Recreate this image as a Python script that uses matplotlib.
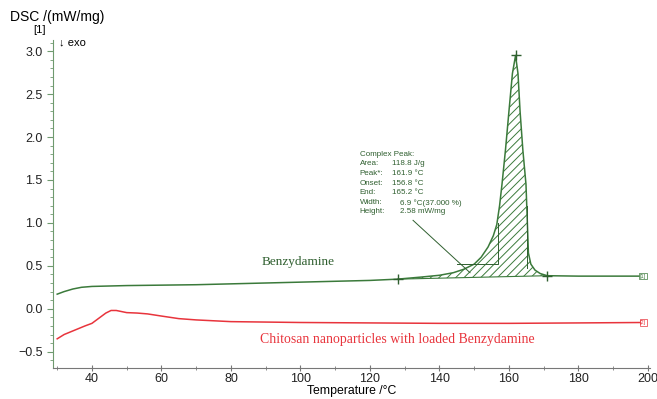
import matplotlib.pyplot as plt
from matplotlib.ticker import MultipleLocator

# DSC trace of pure benzydamine (°C, mW/mg)
t_benz = [30, 32, 34.5, 37, 40, 45, 50, 60, 70, 80, 90, 100, 110, 120, 128,
          135, 140, 144, 147, 150, 152, 154, 155.5, 156.5, 157.3, 158, 159,
          160, 161, 161.9, 162.6, 163.2, 164.0, 164.9, 165.3, 165.6, 166.3,
          167.5, 169, 171, 180, 190, 198.6]
dsc_benz = [0.17, 0.20, 0.23, 0.25, 0.26, 0.265, 0.27, 0.275, 0.28, 0.29, 0.30,
            0.31, 0.32, 0.33, 0.345, 0.37, 0.39, 0.42, 0.46, 0.52, 0.60, 0.72,
            0.85, 0.98, 1.20, 1.45, 1.85, 2.30, 2.74, 2.95, 2.74, 2.30, 1.85,
            1.45, 1.00, 0.65, 0.52, 0.45, 0.41, 0.385, 0.38, 0.38, 0.38]

# DSC trace of chitosan nanoparticles loaded with benzydamine
t_np = [30, 32, 35, 38, 40, 42, 44, 45.5, 47, 50, 53, 56, 60, 65, 70, 80, 90,
        100, 120, 140, 160, 180, 198.6]
dsc_np = [-0.35, -0.30, -0.25, -0.20, -0.17, -0.11, -0.05, -0.02, -0.02,
          -0.045, -0.05, -0.06, -0.085, -0.115, -0.13, -0.15, -0.155, -0.16,
          -0.165, -0.17, -0.17, -0.165, -0.16]

# peak evaluation
peak_start, peak_end = 128, 171
peak_t, peak_h = 161.9, 2.95
onset_t, end_t = 156.8, 165.2
peak_keys = ['Area:', 'Peak*:', 'Onset:', 'End:', 'Width:', 'Height:']
peak_vals = ['118.8 J/g', '161.9 °C', '156.8 °C', '165.2 °C',
             '6.9 °C(37.000 %)', '2.58 mW/mg']

green = '#3b7a3b'
dark_green = '#2f5f2f'
red = '#e8343c'

plt.rcParams['font.family'] = ['Liberation Sans', 'DejaVu Sans']
plt.rcParams['hatch.linewidth'] = 0.7

fig = plt.figure(figsize=(6.57, 3.99), dpi=100)
ax = fig.add_axes([0.0807, 0.0777, 0.9087, 0.822])

ax.plot(t_benz, dsc_benz, color=green, lw=1.1)
ax.plot(t_np, dsc_np, color=red, lw=1.1)

# hatched peak area between curve and linear baseline
b0 = dsc_benz[t_benz.index(peak_start)]
b1 = dsc_benz[t_benz.index(peak_end)]
seg = [(t, v) for t, v in zip(t_benz, dsc_benz) if peak_start <= t <= peak_end]
seg_t = [s[0] for s in seg]
seg_v = [s[1] for s in seg]
base = [b0 + (b1 - b0) * (t - peak_start) / (peak_end - peak_start) for t in seg_t]
ax.fill_between(seg_t, base, seg_v, facecolor='none', edgecolor=green,
                hatch='////', lw=0)
ax.plot([peak_start, peak_end], [b0, b1], color=green, lw=0.8)
ax.plot([peak_start, peak_end, peak_t], [b0, b1, peak_h], '+', color=dark_green,
        ms=7, mew=1)

# onset / end construction lines
ax.plot([145, onset_t, onset_t], [0.52, 0.52, 1.0], color=dark_green, lw=0.7)
ax.plot([end_t, end_t], [0.48, 1.2], color=dark_green, lw=0.7)

# results text block
y0 = 1.84
dy = 0.112
ax.text(117.1, y0, 'Complex Peak:', fontsize=5.8, color=dark_green, va='top')
for i, (k, v) in enumerate(zip(peak_keys, peak_vals)):
    y = y0 - dy * (i + 1)
    ax.text(117.1, y, k, fontsize=5.8, color=dark_green, va='top')
    xv = 128.6 if i >= 4 else 126.3
    ax.text(xv, y, v, fontsize=5.8, color=dark_green, va='top')
ax.plot([132.4, 148.8], [1.03, 0.42], color=dark_green, lw=0.7)

ax.text(88.9, 0.55, 'Benzydamine', fontsize=9.5, color=dark_green,
        family='Liberation Serif', va='center')
ax.text(88.3, -0.36, 'Chitosan nanoparticles with loaded Benzydamine',
        fontsize=9.9, color=red, family='Liberation Serif', va='center')

# curve tags
ax.text(198.6, 0.38, '[1]', fontsize=4, color=green, ha='center', va='center',
        bbox=dict(boxstyle='square,pad=0.1', fc='white', ec=green, lw=0.5))
ax.text(198.6, -0.16, '[2]', fontsize=4, color=red, ha='center', va='center',
        bbox=dict(boxstyle='square,pad=0.1', fc='white', ec=red, lw=0.5))

ax.set_xlim(28.8, 200.6)
ax.set_ylim(-0.69, 3.13)
ax.xaxis.set_major_locator(MultipleLocator(20))
ax.xaxis.set_minor_locator(MultipleLocator(10))
ax.yaxis.set_major_locator(MultipleLocator(0.5))
ax.yaxis.set_minor_locator(MultipleLocator(0.1))

for s in ['top', 'right']:
    ax.spines[s].set_visible(False)
ax.spines['left'].set_color('#6f9a6f')
ax.spines['bottom'].set_color('#777777')
ax.tick_params(axis='y', which='major', length=4, color='#6f9a6f',
               labelsize=9, labelcolor='#222222')
ax.tick_params(axis='y', which='minor', length=2, color='#6f9a6f')
ax.tick_params(axis='x', which='major', direction='inout', length=5,
               color='#777777', labelsize=9, labelcolor='#222222', pad=1)
ax.tick_params(axis='x', which='minor', direction='inout', length=3,
               color='#777777')

ax.set_xlabel('Temperature /°C', fontsize=8.8, labelpad=0)
fig.text(10 / 657, 1 - 17 / 399, 'DSC /(mW/mg)', fontsize=10, va='center')
fig.text(40 / 657, 1 - 30 / 399, '[1]', fontsize=8, ha='center', va='center')
fig.text(59 / 657, 1 - 42 / 399, '↓ exo', fontsize=8, va='center')

plt.savefig('out.png', dpi=100)
